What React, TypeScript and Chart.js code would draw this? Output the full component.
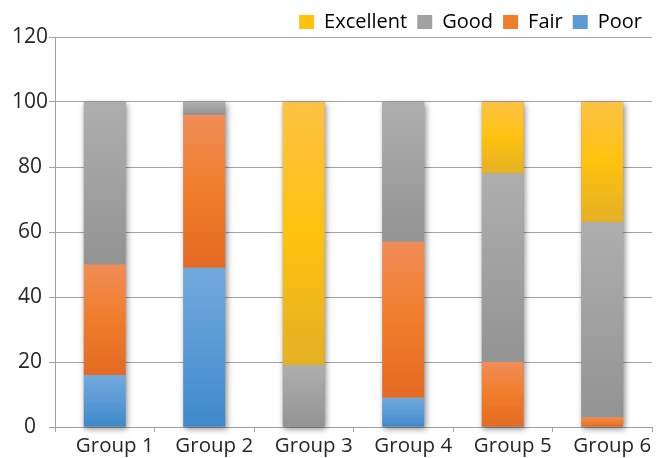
import React, { useEffect, useRef } from "react";
import { Chart, registerables } from "chart.js";

Chart.register(...registerables);

const groups = ["Group 1", "Group 2", "Group 3", "Group 4", "Group 5", "Group 6"];
const poor = [16, 49, 0, 9, 0, 0];
const fair = [34, 47, 0, 48, 20, 3];
const good = [50, 4, 19, 43, 58, 60];
const excellent = [0, 0, 81, 0, 22, 37];

const yTicks = { min: 0, max: 120, step: 20 };

// top / middle / bottom gradient stops per rating
const palette: Record<string, [string, string, string]> = {
  Poor: ["#72a9dd", "#5a9ad5", "#3d89cb"],
  Fair: ["#f18d57", "#f07d2a", "#e46a23"],
  Good: ["#aeaeae", "#a1a1a1", "#939393"],
  Excellent: ["#fec245", "#ffc20e", "#e4b026"],
};

const FONT = "'Open Sans', 'Noto Sans', sans-serif";

// soft drop shadow behind each whole stack
const stackShadow = {
  id: "stackShadow",
  beforeDatasetsDraw(chart: any) {
    const { ctx } = chart;
    const y = chart.scales.y;
    const meta = chart.getDatasetMeta(0);
    ctx.save();
    ctx.shadowColor = "rgba(0,0,0,0.45)";
    ctx.shadowBlur = 6;
    ctx.shadowOffsetX = 1.5;
    ctx.shadowOffsetY = 1.5;
    ctx.fillStyle = "#9a9a9a";
    meta.data.forEach((bar: any, i: number) => {
      let total = 0;
      chart.data.datasets.forEach((ds: any) => (total += ds.data[i]));
      const top = y.getPixelForValue(total);
      const bottom = y.getPixelForValue(0);
      const w = bar.width;
      ctx.fillRect(bar.x - w / 2, top, w, bottom - top);
    });
    ctx.restore();
  },
};

export default function App() {
  const ref = useRef<HTMLCanvasElement | null>(null);

  useEffect(() => {
    if (!ref.current) return;
    const series: [string, number[]][] = [
      ["Poor", poor],
      ["Fair", fair],
      ["Good", good],
      ["Excellent", excellent],
    ];

    const makeFill = (dsIndex: number, name: string) => (c: any) => {
      const stops = palette[name];
      if (c.type !== "data") return stops[1];
      const chart = c.chart;
      const y = chart.scales.y;
      if (!y || !chart.chartArea) return stops[1];
      const i = c.dataIndex;
      let start = 0;
      for (let d = 0; d < dsIndex; d++) start += series[d][1][i];
      const end = start + series[dsIndex][1][i];
      const yTop = y.getPixelForValue(end);
      const yBot = y.getPixelForValue(start);
      if (!isFinite(yTop) || !isFinite(yBot) || yBot - yTop < 0.5) return stops[1];
      const g = chart.ctx.createLinearGradient(0, yTop, 0, yBot);
      g.addColorStop(0, stops[0]);
      g.addColorStop(0.5, stops[1]);
      g.addColorStop(1, stops[2]);
      return g;
    };

    const chart = new Chart(ref.current, {
      type: "bar",
      data: {
        labels: groups,
        datasets: series.map(([name, values], idx) => ({
          label: name,
          data: values,
          backgroundColor: makeFill(idx, name),
          borderWidth: 0,
          barPercentage: 0.42,
          categoryPercentage: 1,
        })),
      },
      plugins: [stackShadow],
      options: {
        animation: false,
        responsive: true,
        maintainAspectRatio: false,
        layout: { padding: { top: 2, right: 4, left: 0, bottom: 0 } },
        plugins: {
          tooltip: { enabled: false },
          legend: {
            position: "top",
            align: "end",
            reverse: true,
            maxHeight: 35,
            labels: {
              boxWidth: 15,
              boxHeight: 14,
              padding: 10,
              color: "#262626",
              font: { family: FONT, size: 20 },
              generateLabels: (ch: any) =>
                ch.data.datasets.map((ds: any, i: number) => ({
                  text: ds.label,
                  fillStyle: palette[ds.label][1],
                  strokeStyle: palette[ds.label][1],
                  lineWidth: 0,
                  hidden: false,
                  datasetIndex: i,
                })),
            },
          },
        },
        scales: {
          x: {
            stacked: true,
            grid: {
              offset: true,
              drawOnChartArea: false,
              drawTicks: true,
              tickLength: 5,
              color: "#a0a0a0",
            },
            border: { color: "#a0a0a0", width: 1 },
            ticks: {
              color: "#262626",
              font: { family: FONT, size: 20.5 },
              padding: 2,
              labelOffset: 10,
              maxRotation: 0,
            },
            afterFit: (s: any) => {
              s.height = 31;
            },
          },
          y: {
            stacked: true,
            min: yTicks.min,
            max: yTicks.max,
            grid: { color: "#a3a3a3", tickLength: 6 },
            border: { color: "#a0a0a0", width: 1 },
            ticks: {
              stepSize: yTicks.step,
              color: "#262626",
              font: { family: FONT, size: 21 },
              padding: 1,
              crossAlign: "center",
            },
            afterFit: (s: any) => {
              s.width = 55;
            },
          },
        },
      },
    });
    return () => chart.destroy();
  }, []);

  return (
    <div style={{ position: "fixed", left: 0, top: 0, width: 656, height: 458, background: "#ffffff" }}>
      <canvas ref={ref} />
    </div>
  );
}
